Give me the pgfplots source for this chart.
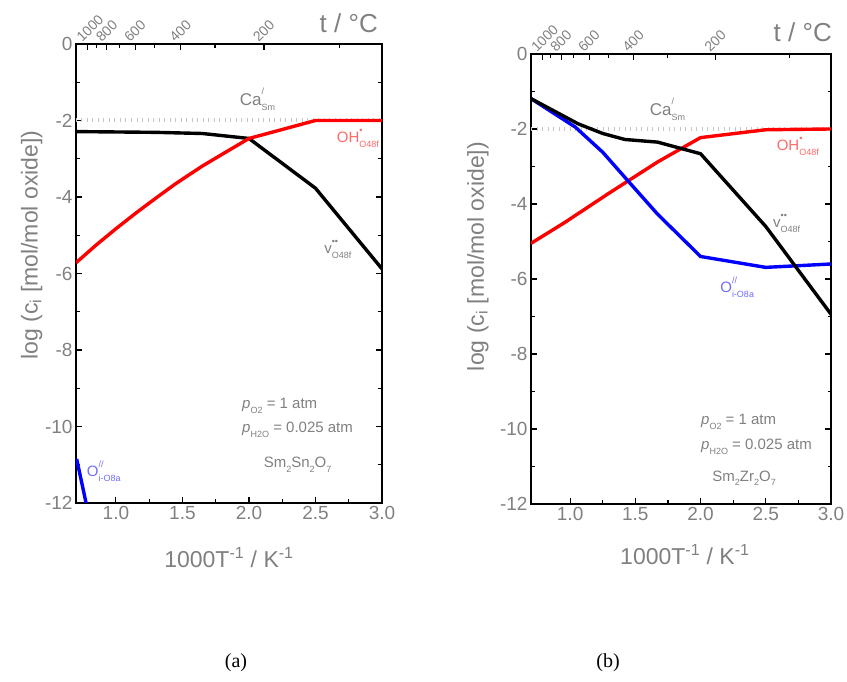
\documentclass[border=0pt]{standalone}
\usepackage{fontspec}
\setmainfont{Liberation Sans}
\newfontfamily\seriffont{Liberation Serif}
\usepackage{pgfplots}
\pgfplotsset{compat=1.18}
\definecolor{txtgray}{RGB}{128,128,128}
\definecolor{lred}{RGB}{255,105,105}
\definecolor{lblue}{RGB}{110,110,255}
\newcommand{\fs}[1]{\fontsize{#1}{#1}\selectfont}
\newcommand{\KV}[3]{#1\rlap{\raisebox{0.62em}{\fs{9}#2}}\raisebox{-0.32em}{\fs{9}#3}}
\tikzset{
  dots/.style={gray!45, line width=4pt, dash pattern=on 1pt off 4.5pt},
  kr/.style={red, line width=3.4pt},
  kb/.style={blue, line width=3.4pt},
  kk/.style={black, line width=3.4pt},
  ann/.style={txtgray, font=\fs{15}, inner sep=0pt},
}
\pgfplotsset{
  base/.style={
    scale only axis, xmin=0.7, xmax=3.0, ymin=-12, ymax=0,
    axis line style={line width=1.1pt},
    every tick/.style={line width=1.1pt, black},
    tick align=inside,
    major tick length=6pt, minor tick length=3.5pt,
  },
  main/.style={
    base,
    xtick={1.0,1.5,2.0,2.5,3.0}, minor x tick num=1,
    ytick={-12,-10,-8,-6,-4,-2,0}, minor y tick num=1,
    xtick pos=bottom, ytick pos=both, yticklabel pos=left,
    tick label style={txtgray, font=\fs{19}},
    /pgf/number format/assume math mode=true,
    xticklabel style={/pgf/number format/.cd, fixed, fixed zerofill, precision=1},
    yticklabel style={/pgf/number format/.cd, fixed, precision=0},
    label style={txtgray, font=\fs{23}},
    ylabel={log (c\textsubscript{i} [mol/mol oxide])},
    xlabel={1000T\textsuperscript{-1} / K\textsuperscript{-1}},
  },
  top/.style={
    base,
    axis x line*=top, hide y axis, tick align=inside,
    xtick={0.7855,0.9318,1.1453,1.4858,2.1133},
    xticklabels={1000,800,600,400,200},
    minor xtick={0.8524,1.0276,1.2934,1.7447,2.6799},
    major tick length=6pt, minor tick length=4pt,
    xticklabel style={rotate=45, anchor=south west, txtgray, font=\fs{14}, xshift=-4pt, yshift=3pt, inner sep=1pt},
  },
}
\begin{document}
\begin{tikzpicture}
\path[use as bounding box] (0pt,0pt) rectangle (847pt,682pt);
% ---------------- panel (a)
\begin{axis}[main, at={(76pt,179pt)}, anchor=south west, width=306pt, height=459pt,
  ylabel style={at={(axis description cs:-0.145,0.562)}, anchor=center},
  xlabel style={at={(axis description cs:0.5,-0.118)}, anchor=center}]
\addplot[dots] coordinates {(0.7,-2) (3.0,-2)};
\addplot[kk] coordinates {(0.7,-2.29) (1.0,-2.30) (1.3,-2.31) (1.65,-2.34) (2.0,-2.47) (2.5,-3.77) (3.0,-5.88)};
\addplot[kr] coordinates {(0.7,-5.72) (0.85,-5.26) (1.0,-4.83) (1.15,-4.42) (1.3,-4.03) (1.45,-3.65) (1.65,-3.19) (1.8,-2.88) (2.0,-2.47) (2.5,-2.0) (3.0,-2.0)};
\addplot[kb] coordinates {(0.705,-10.85) (0.785,-12.15)};
\node[ann, anchor=base west, font=\fs{17}] at (axis cs:1.93,-1.6) {\KV{Ca}{/}{Sm}};
\node[ann, anchor=base west, lred] at (axis cs:2.66,-2.58) {\KV{OH}{•}{O48f}};
\node[ann, anchor=base west] at (axis cs:2.565,-5.49) {\KV{v}{••}{O48f}};
\node[ann, anchor=base west, lblue] at (axis cs:0.78,-11.31) {\KV{O}{//}{i-O8a}};
\node[ann, anchor=base west] at (axis cs:1.948,-9.54) {\textit{p}\raisebox{-0.3em}{\fs{9}O2} = 1 atm};
\node[ann, anchor=base west] at (axis cs:1.948,-10.17) {\textit{p}\raisebox{-0.3em}{\fs{9}H2O} = 0.025 atm};
\node[ann, anchor=base] at (axis cs:2.365,-11.08) {Sm\raisebox{-0.3em}{\fs{9}2}Sn\raisebox{-0.3em}{\fs{9}2}O\raisebox{-0.3em}{\fs{9}7}};
\end{axis}
\begin{axis}[top, at={(76pt,179pt)}, anchor=south west, width=306pt, height=459pt]
\end{axis}
\node[anchor=east, txtgray, font=\fs{26}, inner sep=0pt] at (378pt,659pt) {t / °C};
\node[font=\seriffont\fs{20}] at (236pt,19pt) {(a)};
% ---------------- panel (b)
\begin{axis}[main, at={(531pt,178pt)}, anchor=south west, width=300pt, height=450pt,
  ylabel style={at={(axis description cs:-0.177,0.55)}, anchor=center},
  xlabel style={at={(axis description cs:0.513,-0.113)}, anchor=center}]
\addplot[dots] coordinates {(0.7,-2) (3.0,-2)};
\addplot[kr] coordinates {(0.7,-5.05) (0.96,-4.49) (1.29,-3.73) (1.67,-2.88) (2.0,-2.23) (2.5,-2.02) (3.0,-2.0)};
\addplot[kb] coordinates {(0.7,-1.19) (1.04,-1.95) (1.25,-2.62) (1.44,-3.37) (1.67,-4.27) (2.0,-5.40) (2.5,-5.69) (3.0,-5.60)};
\addplot[kk] coordinates {(0.7,-1.19) (1.06,-1.86) (1.25,-2.12) (1.42,-2.28) (1.67,-2.35) (2.0,-2.66) (2.5,-4.6) (3.0,-6.94)};
\node[ann, anchor=base west, font=\fs{17}] at (axis cs:1.61,-1.63) {\KV{Ca}{/}{Sm}};
\node[ann, anchor=base west, lred] at (axis cs:2.583,-2.57) {\KV{OH}{•}{O48f}};
\node[ann, anchor=base west] at (axis cs:2.555,-4.64) {\KV{v}{••}{O48f}};
\node[ann, anchor=base west, lblue] at (axis cs:2.15,-6.36) {\KV{O}{//}{i-O8a}};
\node[ann, anchor=base west] at (axis cs:2.003,-9.89) {\textit{p}\raisebox{-0.3em}{\fs{9}O2} = 1 atm};
\node[ann, anchor=base west] at (axis cs:2.003,-10.56) {\textit{p}\raisebox{-0.3em}{\fs{9}H2O} = 0.025 atm};
\node[ann, anchor=base] at (axis cs:2.334,-11.4) {Sm\raisebox{-0.3em}{\fs{9}2}Zr\raisebox{-0.3em}{\fs{9}2}O\raisebox{-0.3em}{\fs{9}7}};
\end{axis}
\begin{axis}[top, at={(531pt,178pt)}, anchor=south west, width=300pt, height=450pt]
\end{axis}
\node[anchor=east, txtgray, font=\fs{26}, inner sep=0pt] at (832pt,650pt) {t / °C};
\node[font=\seriffont\fs{20}] at (608pt,19pt) {(b)};
\end{tikzpicture}
\end{document}
